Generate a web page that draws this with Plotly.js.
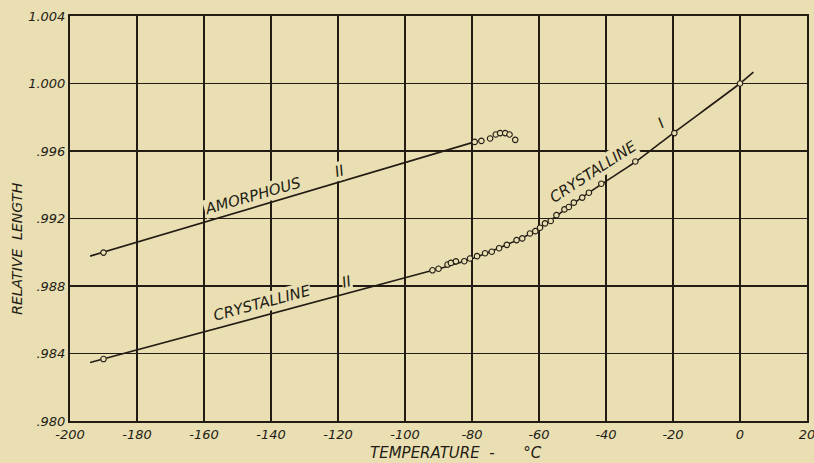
<!DOCTYPE html>
<html>
<head>
<meta charset="utf-8">
<script src="https://cdn.plot.ly/plotly-3.0.1.min.js"></script>
<style>html,body{margin:0;padding:0;background:#e9dfb3;}#chart{width:814px;height:463px;}</style>
</head>
<body>
<div id="chart"></div>
<script>
// Amorphous II: measured points
var amorphT = [-190, -79.2, -77.2, -74.6, -72.9, -71.6, -70.1, -68.8, -67.1];
var amorphL = [0.98998, 0.99654, 0.99660, 0.99674, 0.99698, 0.99706, 0.99706, 0.99698, 0.99666];
// Amorphous II: drawn line
var amorphLineT = [-194, -79.2];
var amorphLineL = [0.98977, 0.99654];

// Crystalline II / I: measured points
var crystT = [-190, -91.8, -90.0, -87.3, -86.3, -84.8, -82.3, -80.6, -78.5, -76.1, -74.1, -71.9, -69.6, -66.7, -65.0, -62.7, -61.1, -59.7, -58.2, -56.5, -54.8, -52.4, -51.1, -49.6, -47.1, -45.1, -41.4, -31.25, -19.6, 0];
var crystL = [0.98367, 0.98893, 0.98902, 0.98927, 0.98937, 0.98946, 0.98947, 0.98963, 0.98977, 0.98994, 0.99003, 0.99024, 0.99044, 0.99072, 0.99082, 0.99111, 0.99125, 0.99145, 0.99171, 0.99185, 0.99220, 0.99254, 0.99268, 0.99294, 0.99324, 0.99353, 0.99406, 0.99538, 0.99706, 1.00000];
// Crystalline: drawn curve
var crystLineT = [-194, -90, -80, -70, -62, -58, -50, -41, -31, -20, 0, 4];
var crystLineL = [0.98347, 0.98902, 0.98962, 0.99042, 0.99115, 0.99168, 0.99285, 0.99408, 0.99538, 0.99705, 1.00000, 1.00067];

var xTickVals = [-200, -180, -160, -140, -120, -100, -80, -60, -40, -20, 0, 20];
var xTickText = ['-200', '-180', '-160', '-140', '-120', '-100', '-80', '-60', '-40', '-20', '0', '20'];
var yTickVals = [0.980, 0.984, 0.988, 0.992, 0.996, 1.000, 1.004];
var yTickText = ['.980', '.984', '.988', '.992', '.996', '1.000', '1.004'];

var ink = '#231c14';
var paper = '#e9dfb3';
var FAM = 'DejaVu Sans, sans-serif';
var lab = {family: FAM, size: 13, color: ink, style: 'italic'};
function f(s) { return {family: FAM, size: s, color: ink, style: 'italic'}; }

var traces = [
  {x: amorphLineT, y: amorphLineL, mode: 'lines', line: {color: ink, width: 1.6}, hoverinfo: 'skip', showlegend: false},
  {x: crystLineT, y: crystLineL, mode: 'lines', line: {color: ink, width: 1.6, shape: 'spline', smoothing: 0.6}, hoverinfo: 'skip', showlegend: false},
  {x: amorphT, y: amorphL, mode: 'markers', marker: {symbol: 'circle', size: 5.5, color: paper, line: {color: ink, width: 1.1}}, showlegend: false},
  {x: crystT, y: crystL, mode: 'markers', marker: {symbol: 'circle', size: 5.5, color: paper, line: {color: ink, width: 1.1}}, showlegend: false}
];

var layout = {
  width: 814, height: 463,
  margin: {l: 70, r: 7, t: 16, b: 42},
  paper_bgcolor: paper, plot_bgcolor: paper,
  showlegend: false,
  xaxis: {range: [-200, 20], tickvals: xTickVals, ticktext: xTickText, showgrid: true, gridcolor: ink, gridwidth: 1.4,
          zeroline: false, showline: true, linecolor: ink, linewidth: 2, mirror: true, ticks: '', tickfont: lab,
          ticklabeloverflow: 'allow'},
  yaxis: {range: [0.980, 1.004], tickvals: yTickVals, ticktext: yTickText, showgrid: true, gridcolor: ink, gridwidth: 1.4,
          zeroline: false, showline: true, linecolor: ink, linewidth: 2, mirror: true, ticks: '', tickfont: lab},
  annotations: [
    {xref: 'paper', yref: 'paper', x: -0.072, y: 0.425, xanchor: 'center', yanchor: 'middle', text: 'RELATIVE  LENGTH', textangle: -90, showarrow: false, font: f(14)},
    {xref: 'paper', yref: 'paper', x: 0.524, y: -0.08, xanchor: 'center', yanchor: 'middle', text: 'TEMPERATURE  -      °C', showarrow: false, font: f(15)},
    {x: -145.5, y: 0.99335, text: 'AMORPHOUS', textangle: -16, showarrow: false, font: f(15), bgcolor: paper, borderpad: 0},
    {x: -119.5, y: 0.99480, text: 'II', textangle: -16, showarrow: false, font: f(15), bgcolor: paper, borderpad: 0},
    {x: -142.6, y: 0.98700, text: 'CRYSTALLINE', textangle: -15, showarrow: false, font: f(15), bgcolor: paper, borderpad: 0},
    {x: -117.6, y: 0.98826, text: 'II', textangle: -15, showarrow: false, font: f(15), bgcolor: paper, borderpad: 0},
    {x: -44, y: 0.99478, text: 'CRYSTALLINE', textangle: -33, showarrow: false, font: f(15), bgcolor: paper, borderpad: 0},
    {x: -23.5, y: 0.99765, text: 'I', textangle: -33, showarrow: false, font: f(15), bgcolor: paper, borderpad: 0}
  ]
};

Plotly.newPlot('chart', traces, layout, {displayModeBar: false, staticPlot: true});
</script>
</body>
</html>
